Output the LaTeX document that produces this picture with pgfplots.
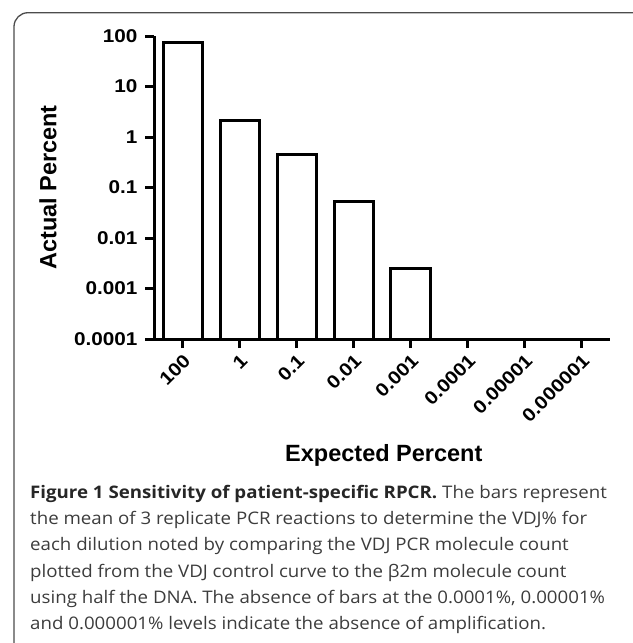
\documentclass[border=0pt]{standalone}
\usepackage{fontspec}
\setmainfont{Open Sans}[FakeStretch=1.08]
\newfontfamily\arialb{Liberation Sans}[FakeStretch=1.12]
\newfontfamily\arialc{Liberation Sans}
\usepackage{pgfplots}
\pgfplotsset{compat=1.18}
\definecolor{captxt}{HTML}{3C3C3C}
\begin{document}
\begin{tikzpicture}
\useasboundingbox (0,0) rectangle (633bp,-643bp);
% frame
\draw[line width=1.3bp, black!70, rounded corners=14bp] (14bp,-650bp) -- (14bp,-12.7bp) -- (640bp,-12.7bp);
\begin{axis}[
  at={(154bp,-339bp)}, anchor=south west,
  scale only axis, width=456bp, height=303bp,
  ymode=log, log origin=infty, ymin=1e-4, ymax=100,
  xmin=-0.5, xmax=7.5,
  axis lines*=left,
  axis line style={line width=3bp, black},
  xtick={0,...,7},
  xticklabels={100,1,0.1,0.01,0.001,0.0001,0.00001,0.000001},
  ytick={1e-4,1e-3,1e-2,1e-1,1,10,100},
  yticklabels={0.0001,0.001,0.01,0.1,1,10,100},
  yminorticks=false,
  tick align=outside, major tick length=9bp,
  tick style={line width=3bp, black},
  /pgf/number format/assume math mode=true,
  ticklabel style={font=\arialb\bfseries\fontsize{18.5bp}{20bp}\selectfont},
  yticklabel style={xshift=-4bp},
  xticklabel style={rotate=45, anchor=north east},
  ybar, bar width=39bp,
  xlabel={Expected Percent},
  ylabel={Actual Percent},
  every axis y label/.style={at={(axis description cs:-0.2325,0.5)}, rotate=90, anchor=center, font=\arialc\bfseries\fontsize{23.5bp}{24bp}\selectfont},
  every axis x label/.style={at={(axis description cs:0.504,-0.383)}, anchor=center, font=\arialc\bfseries\fontsize{23.5bp}{24bp}\selectfont},
]
\addplot[draw=black, fill=white, line width=3bp] coordinates {(0,73) (1,2.1) (2,0.45) (3,0.052) (4,0.0025)};
\end{axis}
% caption
\begin{scope}[every node/.style={anchor=base west, inner sep=0pt, text=captxt, font=\fontsize{17.3bp}{21bp}\selectfont}]
\node at (30bp,-498bp) {{\color{black!85}\bfseries Figure 1 Sensitivity of patient-specific RPCR.} The bars represent};
\node at (30bp,-524.3bp) {the mean of 3 replicate PCR reactions to determine the VDJ\% for};
\node at (30bp,-550.6bp) {each dilution noted by comparing the VDJ PCR molecule count};
\node at (30bp,-577bp) {plotted from the VDJ control curve to the β2m molecule count};
\node at (30bp,-603bp) {using half the DNA. The absence of bars at the 0.0001\%, 0.00001\%};
\node at (30bp,-629.5bp) {and 0.000001\% levels indicate the absence of amplification.};
\end{scope}
\end{tikzpicture}
\end{document}
